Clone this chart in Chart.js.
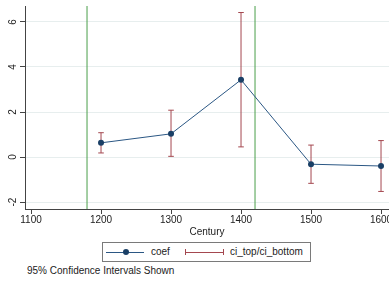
<!DOCTYPE html>
<html>
<head>
<meta charset="utf-8">
<script src="https://cdn.jsdelivr.net/npm/chart.js@4/dist/chart.umd.min.js"></script>
<style>
  html, body { margin:0; padding:0; background:#fff; overflow:hidden; width:389px; height:281px; }
  body { position:relative; font-family:"Liberation Sans", Arial, sans-serif; color:#222; }
  #wrap { position:absolute; left:0; top:0; width:400px; height:240px; }
  #legend { position:absolute; left:102px; top:242px; width:207px; height:18px; border:1px solid #7a7a7a; box-sizing:content-box; }
  .lg-line { position:absolute; height:1px; top:9px; }
  .lg-dot { position:absolute; width:6px; height:6px; border-radius:50%; top:6px; background:#1a3f66; }
  .lg-cap { position:absolute; width:1px; height:6px; top:6px; background:#a4474f; }
  .lg-text { position:absolute; top:3px; font-size:10px; line-height:12px; white-space:nowrap; color:#222; }
  #note { position:absolute; left:27px; top:265px; font-size:10px; line-height:12px; white-space:nowrap; color:#222; }
</style>
</head>
<body>
<div id="wrap"><canvas id="c" width="400" height="240"></canvas></div>
<div id="legend">
  <div class="lg-line" style="left:3px;width:38px;background:#2b5784;"></div>
  <div class="lg-dot" style="left:20px;"></div>
  <div class="lg-text" style="left:48px;">coef</div>
  <div class="lg-line" style="left:82px;width:39px;background:#a4474f;"></div>
  <div class="lg-cap" style="left:82px;"></div>
  <div class="lg-cap" style="left:120px;"></div>
  <div class="lg-text" style="left:127px;">ci_top/ci_bottom</div>
</div>
<div id="note">95% Confidence Intervals Shown</div>
<script>
const centuries = [1200, 1300, 1400, 1500, 1600];
const coef      = [0.63, 1.03, 3.43, -0.32, -0.40];
const ciTop     = [1.08, 2.08, 6.42, 0.53, 0.73];
const ciBottom  = [0.18, 0.03, 0.45, -1.17, -1.53];
const xTicks    = [1100, 1200, 1300, 1400, 1500, 1600];
const yTicks    = [-2, 0, 2, 4, 6];
const refLines  = [1180, 1420];
const xRange    = [1091.4, 1611.4];
const yRange    = [-2.31, 6.71];

const NAVY_LINE = '#2b5784', NAVY_DOT = '#1a3f66', MAROON = '#a4474f', GREEN = '#4a9e4a';

const datasets = [];
datasets.push({
  type: 'line', label: 'coef', order: 0,
  data: centuries.map((c, i) => ({x: c, y: coef[i]})),
  borderColor: NAVY_LINE, borderWidth: 1, backgroundColor: NAVY_DOT,
  pointRadius: 3, pointBackgroundColor: NAVY_DOT, pointBorderColor: NAVY_DOT, pointBorderWidth: 0,
  tension: 0, fill: false
});
centuries.forEach((c, i) => {
  datasets.push({
    type: 'line', label: 'ci', order: 1,
    data: [{x: c, y: ciBottom[i]}, {x: c, y: ciTop[i]}],
    borderColor: MAROON, borderWidth: 1,
    pointStyle: 'line', pointRadius: 2.8, pointBorderColor: MAROON, pointBorderWidth: 1,
    fill: false
  });
});
refLines.forEach(v => {
  datasets.push({
    type: 'line', label: 'ref', order: 2,
    data: [{x: v, y: yRange[0]}, {x: v, y: yRange[1]}],
    borderColor: GREEN, borderWidth: 1, pointRadius: 0, fill: false
  });
});

const yLabelPlugin = {
  id: 'yLabels',
  afterDraw(chart) {
    const y = chart.scales.y, ctx = chart.ctx;
    ctx.save();
    ctx.fillStyle = '#222';
    ctx.font = '10px "Liberation Sans", Arial, sans-serif';
    ctx.textAlign = 'center';
    ctx.textBaseline = 'middle';
    y.ticks.forEach(t => {
      ctx.save();
      ctx.translate(13, y.getPixelForValue(t.value));
      ctx.rotate(-Math.PI / 2);
      ctx.fillText(String(t.value), 0, 0);
      ctx.restore();
    });
    ctx.restore();
  }
};

new Chart(document.getElementById('c'), {
  type: 'line',
  data: { datasets },
  options: {
    responsive: false, animation: false, devicePixelRatio: 1,
    layout: { padding: { top: 6, right: 11, left: 0, bottom: 0 } },
    plugins: { legend: { display: false }, tooltip: { enabled: false } },
    scales: {
      x: {
        type: 'linear', min: xRange[0], max: xRange[1],
        afterBuildTicks: s => { s.ticks = xTicks.map(v => ({value: v})); },
        grid: { drawOnChartArea: false, drawTicks: true, tickLength: 5, tickColor: '#444' },
        border: { display: true, color: '#444', width: 1 },
        ticks: { color: '#222', font: { family: '"Liberation Sans", Arial, sans-serif', size: 10 }, padding: 0, maxRotation: 0, minRotation: 0, callback: v => String(v) },
        title: { display: true, text: 'Century', color: '#222', font: { family: '"Liberation Sans", Arial, sans-serif', size: 10 }, padding: { top: 0, bottom: 2 } }
      },
      y: {
        type: 'linear', min: yRange[0], max: yRange[1],
        afterBuildTicks: s => { s.ticks = yTicks.map(v => ({value: v})); },
        afterFit: s => { s.width = 25; },
        grid: { drawOnChartArea: true, color: '#e7eeee', lineWidth: 1, drawTicks: true, tickLength: 5, tickColor: '#444' },
        border: { display: true, color: '#444', width: 1 },
        ticks: { display: false }
      }
    }
  },
  plugins: [yLabelPlugin]
});
</script>
</body>
</html>
